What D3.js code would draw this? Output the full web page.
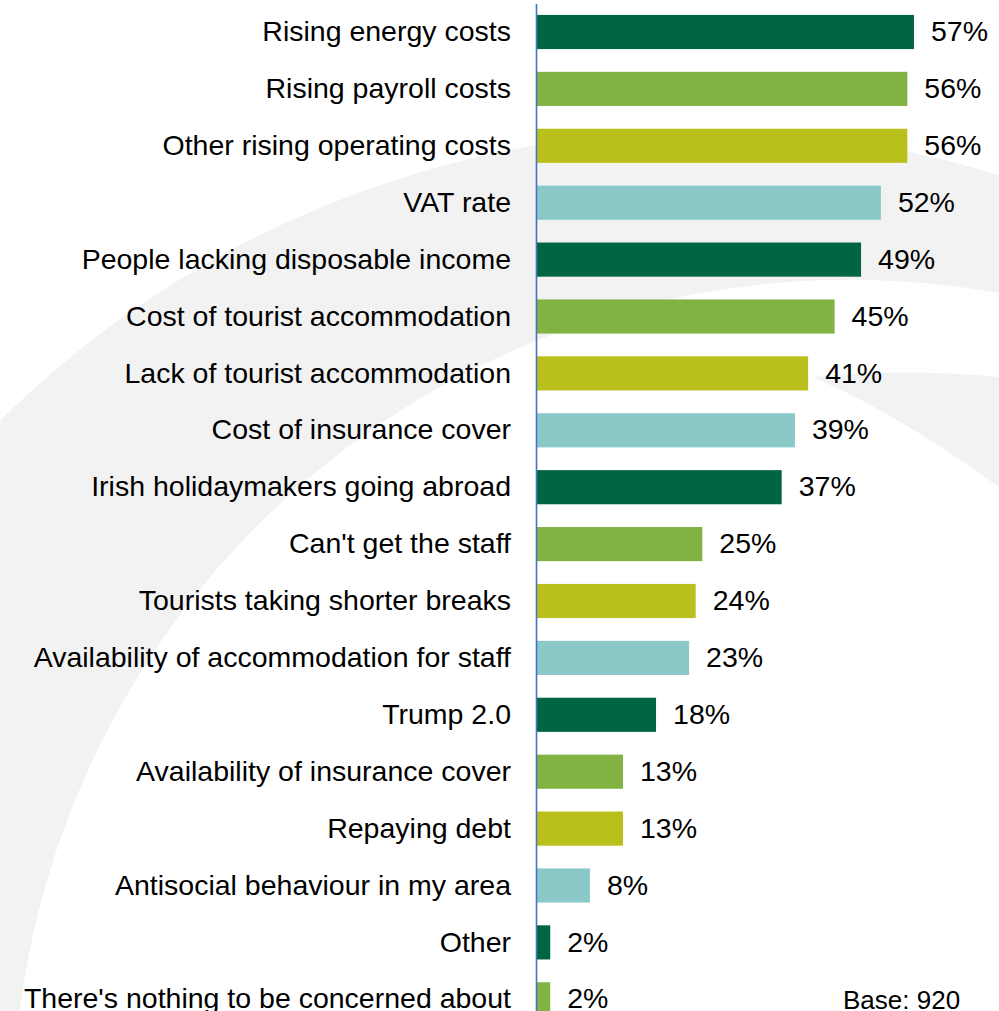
<!DOCTYPE html>
<html>
<head>
<meta charset="utf-8">
<script src="https://cdn.jsdelivr.net/npm/d3@7"></script>
<style>
  html, body { margin: 0; padding: 0; background: #ffffff; }
  svg { display: block; }
  text { font-family: "Liberation Sans", Arial, sans-serif; fill: #000; }
</style>
</head>
<body>
<script>
const categories = [
  "Rising energy costs",
  "Rising payroll costs",
  "Other rising operating costs",
  "VAT rate",
  "People lacking disposable income",
  "Cost of tourist accommodation",
  "Lack of tourist accommodation",
  "Cost of insurance cover",
  "Irish holidaymakers going abroad",
  "Can't get the staff",
  "Tourists taking shorter breaks",
  "Availability of accommodation for staff",
  "Trump 2.0",
  "Availability of insurance cover",
  "Repaying debt",
  "Antisocial behaviour in my area",
  "Other",
  "There's nothing to be concerned about"
];
const values = [57, 56, 56, 52, 49, 45, 41, 39, 37, 25, 24, 23, 18, 13, 13, 8, 2, 2];
const palette = ["#006542", "#82B241", "#B9C01B", "#8BC9C8"];
const baseNote = "Base: 920";

const W = 999, H = 1011;
const svg = d3.select("body").append("svg").attr("width", W).attr("height", H);

// decorative background swoosh
const bg = svg.append("g");
const ring = d3.path();
ring.moveTo(705 + 1003, 1134);
ring.arc(705, 1134, 1003, 0, 2 * Math.PI);
ring.closePath();
ring.moveTo(850 + 837, 1117);
ring.arc(850, 1117, 837, 0, 2 * Math.PI);
ring.closePath();
bg.append("path").attr("d", ring.toString()).attr("fill", "#f2f2f2").attr("fill-rule", "evenodd");

const cres = d3.path();
cres.moveTo(813, 377);
cres.quadraticCurveTo(905, 368, 999, 377);
cres.lineTo(999, 487);
cres.quadraticCurveTo(900, 415, 813, 377);
cres.closePath();
bg.append("path").attr("d", cres.toString()).attr("fill", "#f2f2f2");

// scales
const step = 56.9;
const y = d3.scaleBand()
  .domain(categories)
  .range([32 - step / 2, 32 - step / 2 + step * categories.length])
  .paddingInner(0.4)
  .paddingOuter(0.2);

const x0 = 537;
const x = d3.scaleLinear().domain([0, 60]).range([x0, x0 + 396.8]);

// bars
svg.append("g").selectAll("rect")
  .data(values)
  .join("rect")
  .attr("x", x(0))
  .attr("y", (d, i) => y(categories[i]))
  .attr("width", d => x(d) - x(0))
  .attr("height", y.bandwidth())
  .attr("fill", (d, i) => palette[i % palette.length]);

// value labels
svg.append("g").selectAll("text")
  .data(values)
  .join("text")
  .attr("x", d => x(d) + 17)
  .attr("y", (d, i) => y(categories[i]) + y.bandwidth() / 2)
  .attr("dy", "0.32em")
  .attr("font-size", "28.5px")
  .text(d => d + "%");

// axis
const axis = svg.append("g")
  .attr("transform", "translate(536,0)")
  .call(d3.axisLeft(y).tickSizeInner(0).tickSizeOuter(0).tickPadding(25));
axis.select(".domain").attr("stroke", "#4472C4").attr("stroke-width", 1.6);
axis.selectAll(".tick text")
  .attr("font-size", "28.5px")
  .attr("font-family", "Liberation Sans, Arial, sans-serif")
  .attr("fill", "#000")
  .attr("dy", "0.32em");

// base note
svg.append("text")
  .attr("x", 843)
  .attr("y", 1009)
  .attr("font-size", "26px")
  .text(baseNote);
</script>
</body>
</html>
